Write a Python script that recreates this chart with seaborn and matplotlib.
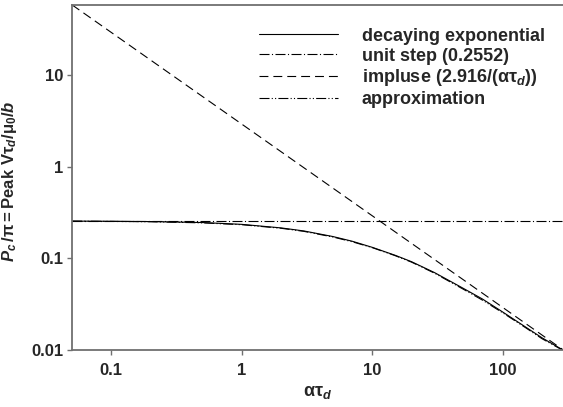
import matplotlib
matplotlib.use("Agg")
import matplotlib.pyplot as plt
import seaborn as sns
import pandas as pd
import numpy as np

# ---- data ----
x_curve = [0.05, 0.1, 0.2, 0.5, 1, 2, 3, 5, 7, 10, 15, 20, 30, 50, 70, 100, 150, 200, 290]
y_decay = [0.255, 0.254, 0.252, 0.246, 0.235, 0.215, 0.199, 0.173, 0.154, 0.132,
           0.108, 0.092, 0.070, 0.047, 0.036, 0.026, 0.0178, 0.0136, 0.0100]
y_approx = [0.255, 0.253, 0.251, 0.244, 0.233, 0.213, 0.197, 0.171, 0.152, 0.131,
            0.107, 0.091, 0.069, 0.046, 0.035, 0.0255, 0.0175, 0.0133, 0.0099]
x_step = [0.05, 290]
y_step = [0.2552, 0.2552]
x_impulse = [0.05, 290]
y_impulse = [58.32, 0.01006]

labels = ["decaying exponential", "unit step (0.2552)",
          r"impluse (2.916/($\mathrm{ατ}_\mathit{d}$))", "approximation"]
x_ticks = [0.1, 1, 10, 100]
x_ticklabels = ["0.1", "1", "10", "100"]
y_ticks = [0.01, 0.1, 1, 10]
y_ticklabels = ["0.01", "0.1", "1", "10"]

frames = []
for lab, xs, ys in [(labels[0], x_curve, y_decay), (labels[1], x_step, y_step),
                    (labels[2], x_impulse, y_impulse), (labels[3], x_curve, y_approx)]:
    frames.append(pd.DataFrame({"x": xs, "y": ys, "series": lab}))
df = pd.concat(frames, ignore_index=True)

sns.set_theme(style="ticks")
plt.rcParams["font.family"] = ["Liberation Sans", "DejaVu Sans"]
plt.rcParams["font.weight"] = "bold"
plt.rcParams["mathtext.fontset"] = "custom"
plt.rcParams["mathtext.rm"] = "Liberation Sans:bold"
plt.rcParams["mathtext.bf"] = "Liberation Sans:bold"
plt.rcParams["mathtext.it"] = "Liberation Sans:bold:italic"

fig = plt.figure(figsize=(5.63, 4.07), dpi=100)
ax = fig.add_axes([0.128, 0.140, 0.872, 0.848])

dashes = {labels[0]: "", labels[1]: (9, 2.2, 1, 2.2),
          labels[2]: (8, 4.5), labels[3]: (9, 2, 1, 2, 1, 2)}
sns.lineplot(data=df, x="x", y="y", style="series", style_order=labels,
             dashes=dashes, color="black", linewidth=0.8, ax=ax,
             sort=False, estimator=None)

ax.set_xscale("log")
ax.set_yscale("log")
ax.set_xlim(0.05, 290)
ax.set_ylim(0.01, 58.32)
ax.set_xticks(x_ticks)
ax.set_xticklabels(x_ticklabels)
ax.set_yticks(y_ticks)
ax.set_yticklabels(y_ticklabels)
ax.minorticks_off()
ax.tick_params(axis="both", labelsize=12, length=3.5, width=1, color="#707070",
               direction="out", pad=3)
ax.tick_params(axis="x", pad=6)
for t in ax.get_xticklabels() + ax.get_yticklabels():
    t.set_fontweight("bold")
for s in ax.spines.values():
    s.set_color("#707070")
    s.set_linewidth(1.3)
ax.spines["right"].set_visible(False)

ax.set_xlabel(r"$\mathrm{ατ}_\mathit{d}$", fontsize=13, labelpad=4)
ax.set_ylabel(r"$\mathit{P}_\mathit{c}\,\mathrm{/π{=}Peak\ Vτ}_\mathit{d}\mathrm{/μ}_\mathrm{0}\mathrm{/}\mathit{b}$",
              fontsize=12, labelpad=0)
ax.yaxis.set_label_coords(-0.108, 0.49)

leg = ax.legend(loc="upper right", frameon=False, fontsize=13,
                handlelength=4.4, handletextpad=1.3, labelspacing=0.15,
                bbox_to_anchor=(0.985, 0.965), borderaxespad=0.2)
for t in leg.get_texts():
    t.set_fontweight("bold")

fig.savefig("out.png", dpi=100)
